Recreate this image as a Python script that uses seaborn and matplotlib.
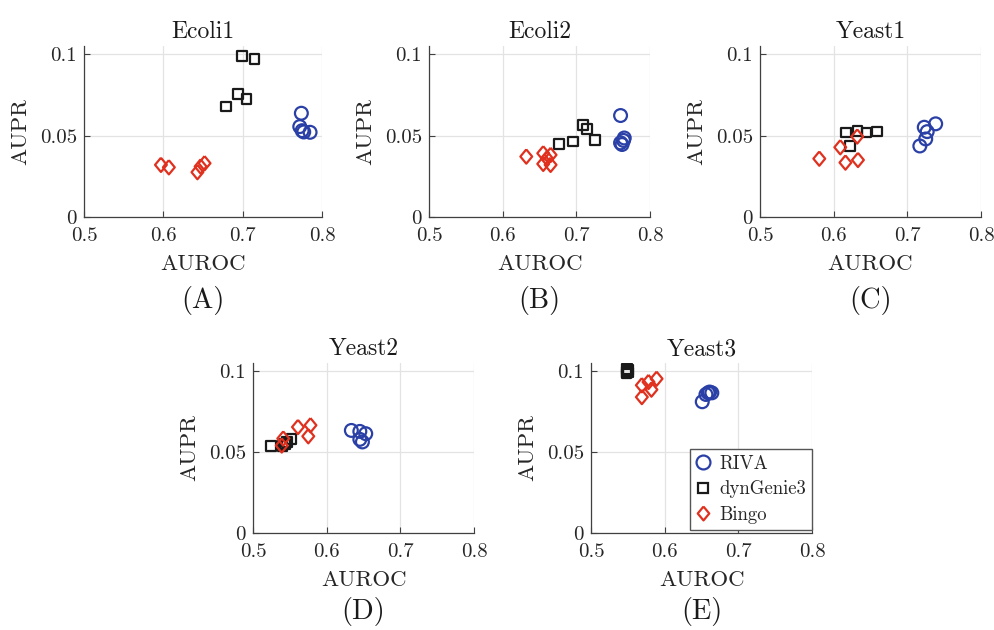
import numpy as np
import pandas as pd
import seaborn as sns
import matplotlib.pyplot as plt
from matplotlib.lines import Line2D
from matplotlib.ticker import FormatStrFormatter

sns.set_style('white')
plt.rcParams['font.family'] = ['cmr10', 'DejaVu Serif']
plt.rcParams['mathtext.fontset'] = 'cm'
plt.rcParams['axes.formatter.use_mathtext'] = True

# data (AUROC, AUPR) per dataset and method
datasets = ['Ecoli1', 'Ecoli2', 'Yeast1', 'Yeast2', 'Yeast3']
panel_tags = ['(A)', '(B)', '(C)', '(D)', '(E)']
methods = ['RIVA', 'dynGenie3', 'Bingo']

riva_auroc = {
    'Ecoli1': [0.774, 0.772, 0.775, 0.777, 0.785],
    'Ecoli2': [0.760, 0.760, 0.762, 0.764, 0.765],
    'Yeast1': [0.7385, 0.723, 0.727, 0.725, 0.717],
    'Yeast2': [0.6335, 0.645, 0.653, 0.645, 0.6485],
    'Yeast3': [0.651, 0.656, 0.659, 0.661, 0.664],
}
riva_aupr = {
    'Ecoli1': [0.0637, 0.0555, 0.0530, 0.0522, 0.0520],
    'Ecoli2': [0.0623, 0.0455, 0.0445, 0.0470, 0.0485],
    'Yeast1': [0.0572, 0.0551, 0.0524, 0.0479, 0.0436],
    'Yeast2': [0.0633, 0.0627, 0.0613, 0.0578, 0.0562],
    'Yeast3': [0.0810, 0.0855, 0.0865, 0.0870, 0.0865],
}
dyn_auroc = {
    'Ecoli1': [0.699, 0.715, 0.694, 0.705, 0.679],
    'Ecoli2': [0.709, 0.7145, 0.725, 0.6955, 0.676],
    'Yeast1': [0.617, 0.6325, 0.6445, 0.659, 0.6225],
    'Yeast2': [0.524, 0.540, 0.543, 0.546, 0.552],
    'Yeast3': [0.548, 0.549, 0.550, 0.549, 0.550],
}
dyn_aupr = {
    'Ecoli1': [0.0990, 0.0971, 0.0754, 0.0723, 0.0678],
    'Ecoli2': [0.0565, 0.0539, 0.0473, 0.0463, 0.0447],
    'Yeast1': [0.0518, 0.0528, 0.0518, 0.0524, 0.0436],
    'Yeast2': [0.0538, 0.0535, 0.0550, 0.0560, 0.0580],
    'Yeast3': [0.0985, 0.0995, 0.1005, 0.1012, 0.0990],
}
bingo_auroc = {
    'Ecoli1': [0.597, 0.607, 0.643, 0.647, 0.652],
    'Ecoli2': [0.632, 0.655, 0.665, 0.655, 0.665, 0.660],
    'Yeast1': [0.5805, 0.609, 0.616, 0.633, 0.632],
    'Yeast2': [0.561, 0.578, 0.575, 0.541, 0.539],
    'Yeast3': [0.569, 0.578, 0.589, 0.569, 0.582],
}
bingo_aupr = {
    'Ecoli1': [0.0320, 0.0305, 0.0275, 0.0310, 0.0330],
    'Ecoli2': [0.0371, 0.0391, 0.0381, 0.0326, 0.0320, 0.0360],
    'Yeast1': [0.0358, 0.0428, 0.0334, 0.0350, 0.0494],
    'Yeast2': [0.0654, 0.0665, 0.0597, 0.0583, 0.0540],
    'Yeast3': [0.0912, 0.0932, 0.0952, 0.0839, 0.0885],
}

rows = []
for name, xs, ys in [('RIVA', riva_auroc, riva_aupr),
                     ('dynGenie3', dyn_auroc, dyn_aupr),
                     ('Bingo', bingo_auroc, bingo_aupr)]:
    for d in datasets:
        for a, b in zip(xs[d], ys[d]):
            rows.append({'dataset': d, 'method': name, 'AUROC': a, 'AUPR': b})
df = pd.DataFrame(rows)

colors = {'RIVA': '#2b40a6', 'dynGenie3': '#1a1a1a', 'Bingo': '#e0301e'}
diamond = [(0, 1), (0.83, 0), (0, -1), (-0.83, 0), (0, 1)]
markers = {'RIVA': 'o', 'dynGenie3': 's', 'Bingo': diamond}
sizes = {'RIVA': 85, 'dynGenie3': 48, 'Bingo': 105}

fig = plt.figure(figsize=(9.95, 6.3), dpi=100)
# axes boxes in figure fractions [left, bottom, width, height]
boxes = [
    [0.0844, 0.6556, 0.2392, 0.2714],
    [0.4312, 0.6556, 0.2221, 0.2714],
    [0.7638, 0.6556, 0.2221, 0.2714],
    [0.2543, 0.1540, 0.2221, 0.2700],
    [0.5940, 0.1540, 0.2221, 0.2700],
]
tag_y = [-0.49, -0.49, -0.49, -0.46, -0.46]

for d, tag, box, ty in zip(datasets, panel_tags, boxes, tag_y):
    ax = fig.add_axes(box)
    sub = df[df['dataset'] == d]
    for m in methods:
        part = sub[sub['method'] == m]
        sns.scatterplot(data=part, x='AUROC', y='AUPR', marker=markers[m], s=sizes[m],
                        facecolor='none', edgecolor=colors[m], linewidth=1.6, ax=ax)
    ax.set_xlim(0.5, 0.8)
    ax.set_ylim(0, 0.105)
    ax.set_xticks([0.5, 0.6, 0.7, 0.8])
    ax.set_yticks([0, 0.05, 0.1])
    ax.xaxis.set_major_formatter(FormatStrFormatter('%g'))
    ax.yaxis.set_major_formatter(FormatStrFormatter('%g'))
    ax.grid(True, color='#e3e3e3', linewidth=0.9)
    ax.set_axisbelow(True)
    for s in ['top', 'right']:
        ax.spines[s].set_visible(False)
    for s in ['left', 'bottom']:
        ax.spines[s].set_color('#404040')
        ax.spines[s].set_linewidth(0.9)
    ax.tick_params(direction='in', length=4, width=0.8, color='#404040',
                   labelsize=15, labelcolor='#262626', left=True, bottom=True)
    ax.tick_params(axis='x', pad=7)
    ax.tick_params(axis='y', pad=5)
    ax.set_xlabel('AUROC', fontsize=16.5, color='#262626', labelpad=7)
    ax.set_ylabel('AUPR', fontsize=16.5, color='#262626', labelpad=7)
    ax.set_title(d, fontsize=17, color='#1a1a1a', pad=5.5)
    ax.text(0.5, ty, tag, transform=ax.transAxes, ha='center', va='center',
            fontsize=20.5, color='#1a1a1a')

    if d == 'Yeast3':
        handles = [Line2D([], [], linestyle='none', marker=markers[m], markersize=10 if m != 'dynGenie3' else 7,
                          markerfacecolor='none', markeredgecolor=colors[m], markeredgewidth=1.6)
                   for m in methods]
        leg = ax.legend(handles, methods, loc='lower right', bbox_to_anchor=(1.0, 0.02),
                        fontsize=13.5, frameon=True, fancybox=False, framealpha=1,
                        edgecolor='#555555', handlelength=0.8, handletextpad=0.5,
                        borderpad=0.3, labelspacing=0.4, borderaxespad=0.0)
        leg.get_frame().set_linewidth(1.0)

fig.savefig('out.png', dpi=100)
